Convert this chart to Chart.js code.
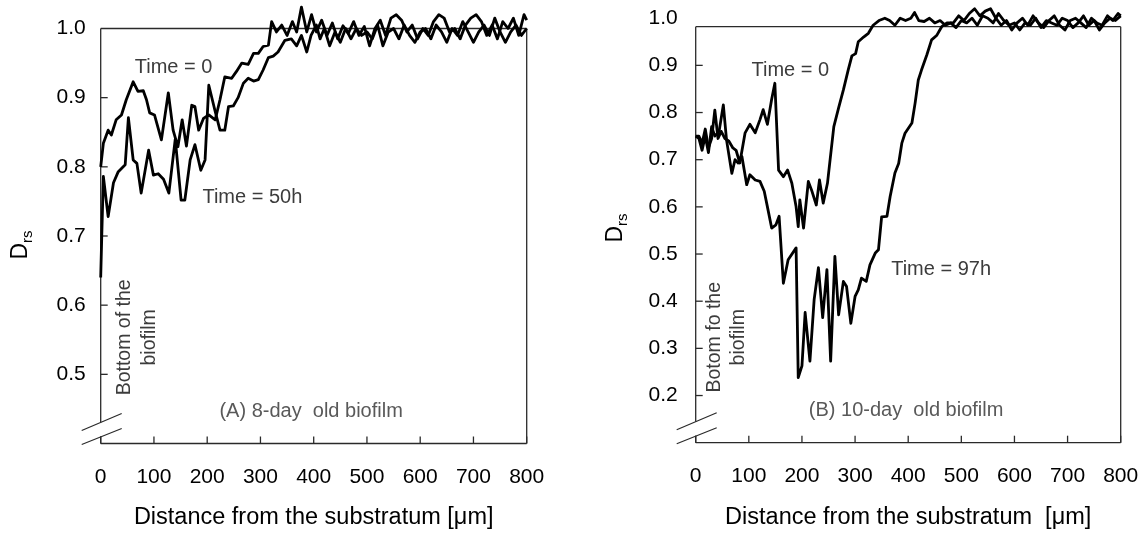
<!DOCTYPE html>
<html><head><meta charset="utf-8">
<script src="https://cdn.jsdelivr.net/npm/chart.js@4/dist/chart.umd.min.js"></script>
<style>
html,body{margin:0;padding:0;background:#fff;width:1143px;height:535px;overflow:hidden}
#cA{position:absolute;left:0;top:0}
#cB{position:absolute;left:570px;top:0}
</style></head><body>
<canvas id="cA" width="570" height="535"></canvas>
<canvas id="cB" width="573" height="535"></canvas>
<script>
// ---------- Panel A (8-day old biofilm) ----------
const a0Dist = [0,5,14,20,29,39,48,61,70,80,
  86,92,101,114,127,136,145,153,161,171,
  177,184,193,203,215,224,233,246,255,265,
  277,287,296,305,315,321,330,340,350,360,
  368,377,387,396,405,415,425,435,445,455,
  465,475,485,495,505,515,525,535,545,555,
  565,575,585,595,605,615,625,635,645,655,
  665,675,685,695,705,715,725,735,745,755,
  765,775,785,795,800];
const a0Vals = [0.80,0.834,0.853,0.846,0.868,0.875,0.897,0.923,0.909,0.91,
  0.897,0.878,0.875,0.839,0.907,0.853,0.829,0.868,0.83,0.889,
  0.887,0.853,0.87,0.875,0.868,0.897,0.93,0.928,0.938,0.95,
  0.948,0.964,0.964,0.974,0.976,1.01,0.995,1.005,0.99,1.01,
  0.995,1.031,0.995,1.02,0.995,1.012,0.99,1.008,0.985,1.004,
  0.993,1.01,0.99,1.003,0.975,1.0,1.012,0.99,1.015,1.02,
  1.012,0.995,1.005,0.985,1.0,0.99,1.01,1.02,1.015,0.995,
  1.0,0.985,1.005,1.015,1.02,1.01,0.99,1.005,0.985,1.01,
  1.0,1.015,0.99,1.02,1.012];
const a50Dist = [0,2,5,14,24,33,46,52,61,68,
  76,90,99,108,118,128,140,151,158,168,
  177,188,196,203,215,224,233,240,249,258,
  268,277,287,296,305,315,324,333,346,358,
  368,377,387,395,405,412,420,430,440,450,
  460,470,480,490,500,510,520,530,540,550,
  560,570,580,590,600,610,620,630,640,650,
  660,670,680,690,700,710,720,730,740,750,
  760,770,780,790,800];
const a50Vals = [0.64,0.70,0.786,0.728,0.777,0.793,0.803,0.871,0.81,0.805,
  0.762,0.824,0.788,0.79,0.782,0.762,0.84,0.752,0.752,0.81,
  0.832,0.795,0.81,0.918,0.88,0.853,0.853,0.887,0.888,0.90,
  0.921,0.928,0.924,0.926,0.94,0.958,0.96,0.966,0.983,0.985,
  0.975,0.99,0.966,0.99,1.005,0.985,1.0,0.975,0.995,0.98,
  1.0,0.985,1.0,0.99,0.995,0.985,1.005,0.975,0.995,1.0,
  0.985,1.005,0.99,0.98,0.995,1.0,0.985,1.005,0.995,0.98,
  1.0,0.99,1.01,0.995,0.98,0.995,1.005,0.99,1.015,0.995,
  0.98,0.995,1.005,0.99,1.0];

// ---------- Panel B (10-day old biofilm) ----------
const b0Dist = [0,6,12,18,24,30,36,42,48,55,
  62,70,76,83,93,102,112,121,127,135,
  143,149,156,165,173,181,189,193,196,203,
  212,218,227,233,240,248,253,260,269,278,
  287,294,301,306,316,325,334,345,356,365,
  375,385,395,405,412,420,430,440,450,460,
  470,480,490,500,510,520,530,540,550,560,
  570,580,590,600,610,620,630,640,650,660,
  670,680,690,700,710,720,730,740,750,760,
  770,780,790,800];
const b0Vals = [0.75,0.75,0.735,0.765,0.725,0.745,0.805,0.745,0.76,0.745,
  0.74,0.725,0.72,0.693,0.757,0.775,0.757,0.785,0.806,0.775,
  0.828,0.862,0.678,0.664,0.678,0.65,0.60,0.558,0.615,0.555,
  0.654,0.636,0.604,0.657,0.608,0.65,0.70,0.77,0.81,0.848,
  0.89,0.92,0.925,0.95,0.96,0.968,0.985,0.995,1.0,0.995,
  0.985,1.0,0.995,1.0,1.012,0.995,0.993,1.0,0.99,0.995,
  0.985,0.99,0.98,0.995,0.99,1.0,0.985,1.005,1.0,0.99,
  1.01,0.995,0.985,0.99,0.975,0.99,0.985,1.0,0.98,0.995,
  0.99,0.985,1.0,0.995,0.98,0.99,1.005,0.985,0.995,0.975,
  0.99,1.0,0.995,1.005];
const b97Dist = [0,6,12,18,24,30,36,44,52,58,
  68,74,80,87,96,102,112,121,129,135,
  143,151,157,165,174,189,193,200,206,215,
  223,231,239,247,254,262,269,278,284,292,
  300,306,312,321,328,338,344,350,360,366,
  375,382,388,394,407,413,419,425,435,444,
  454,463,473,485,495,505,515,525,535,545,
  555,565,575,585,595,605,615,625,635,645,
  655,665,675,685,695,705,715,725,735,745,
  755,765,775,785,795,800];
const b97Vals = [0.75,0.745,0.72,0.75,0.715,0.77,0.75,0.76,0.816,0.742,
  0.671,0.70,0.693,0.707,0.647,0.668,0.657,0.654,0.633,0.60,
  0.555,0.562,0.58,0.438,0.488,0.513,0.238,0.263,0.376,0.273,
  0.404,0.471,0.365,0.467,0.273,0.495,0.371,0.442,0.431,0.353,
  0.41,0.424,0.449,0.442,0.477,0.502,0.509,0.579,0.58,0.622,
  0.672,0.692,0.735,0.756,0.778,0.82,0.869,0.89,0.922,0.954,
  0.964,0.982,0.99,0.99,1.005,0.995,1.01,1.02,1.005,1.015,
  1.02,1.0,0.985,0.995,0.975,0.99,1.0,0.985,1.005,0.99,
  0.98,0.995,1.005,0.985,0.975,0.995,1.0,0.99,0.98,1.0,
  0.99,0.985,1.005,0.995,1.01,1.005];

const xTickStep = 100;
const yTickStep = 0.1;

const FONT = '"Liberation Sans", Arial, Helvetica, sans-serif';
Chart.defaults.font.family = FONT;

function seg(ctx, x1, y1, x2, y2) { ctx.beginPath(); ctx.moveTo(x1, y1); ctx.lineTo(x2, y2); ctx.stroke(); }

function makePanel(id, cfg) {
  const frame = {
    id: 'frame',
    beforeDatasetsDraw(chart) {
      const ctx = chart.ctx, xs = chart.scales.x, ys = chart.scales.y;
      const L = xs.getPixelForValue(0), R = xs.getPixelForValue(800);
      const B = ys.getPixelForValue(cfg.yMin), T = ys.getPixelForValue(cfg.boxTop);
      ctx.save();
      ctx.strokeStyle = '#2a2a2a'; ctx.lineWidth = 1.3; ctx.lineCap = 'butt';
      seg(ctx, L, T, R, T);
      seg(ctx, R, T, R, B);
      seg(ctx, L, B, R, B);
      seg(ctx, L, T, L, B - 21);
      seg(ctx, L, B - 7, L, B);
      ys.ticks.forEach(t => {
        const p = ys.getPixelForValue(t.value);
        if (p > T + 2 && p < B - 2) seg(ctx, L, p, L + 7, p);
      });
      xs.ticks.forEach(t => {
        const p = xs.getPixelForValue(t.value);
        seg(ctx, p, B, p, B - 7);
      });
      ctx.lineWidth = 1.2;
      seg(ctx, L - 19, B - 13, L + 21, B - 30);
      seg(ctx, L - 19, B + 1, L + 21, B - 15);
      ctx.restore();
    },
    afterDraw(chart) {
      const ctx = chart.ctx, xs = chart.scales.x, ys = chart.scales.y;
      ctx.save();
      ctx.textAlign = 'left'; ctx.textBaseline = 'alphabetic';
      cfg.notes.forEach(n => {
        ctx.fillStyle = n.color; ctx.font = n.size + 'px ' + FONT;
        ctx.fillText(n.text, xs.getPixelForValue(n.x), ys.getPixelForValue(n.y));
      });
      cfg.vnotes.forEach(n => {
        ctx.save();
        ctx.translate(xs.getPixelForValue(n.x), ys.getPixelForValue(n.y));
        ctx.rotate(-Math.PI / 2);
        ctx.fillStyle = n.color; ctx.font = n.size + 'px ' + FONT;
        ctx.textAlign = 'center'; ctx.textBaseline = 'middle';
        ctx.fillText(n.text, 0, 0);
        ctx.restore();
      });
      // y-axis title D_rs
      ctx.save();
      ctx.translate(cfg.yTitleX, cfg.yTitleY);
      ctx.rotate(-Math.PI / 2);
      ctx.fillStyle = '#000';
      ctx.font = '23px ' + FONT; const wD = ctx.measureText('D').width;
      ctx.font = '15px ' + FONT; const wS = ctx.measureText('rs').width;
      const st = -(wD + wS) / 2;
      ctx.font = '23px ' + FONT; ctx.fillText('D', st, 0);
      ctx.font = '15px ' + FONT; ctx.fillText('rs', st + wD, 5);
      ctx.restore();
      ctx.restore();
    }
  };
  const mk = (dist, vals) => ({
    data: dist.map((d, i) => ({ x: d, y: vals[i] })),
    borderColor: '#000', borderWidth: 2.8, pointRadius: 0, tension: 0,
    fill: false, clip: false, borderJoinStyle: 'round'
  });
  return new Chart(document.getElementById(id), {
    type: 'line',
    data: { datasets: cfg.series.map(s => mk(s[0], s[1])) },
    options: {
      responsive: false, animation: false, events: [],
      layout: { padding: { left: 0, right: cfg.padRight, top: cfg.padTop, bottom: 0 } },
      plugins: { legend: { display: false }, tooltip: { enabled: false } },
      scales: {
        x: {
          type: 'linear', min: 0, max: 800,
          grid: { display: false, drawTicks: false }, border: { display: false },
          ticks: { stepSize: xTickStep, padding: 21, color: '#000', font: { size: 21 }, maxRotation: 0, autoSkip: false },
          title: { display: true, text: cfg.xTitle, color: '#000', font: { size: 23.5 }, padding: { top: 0, bottom: 3 } },
          afterFit: s => { s.height = 535 - cfg.bottom; s.paddingLeft = 0; s.paddingRight = 0; }
        },
        y: {
          type: 'linear', min: cfg.yMin, max: 1.0,
          grid: { display: false, drawTicks: false }, border: { display: false },
          ticks: { stepSize: yTickStep, padding: cfg.yPad, color: '#000', font: { size: 21 },
            callback: v => Math.abs(v - cfg.yMin) < 1e-6 ? '' : Number(v).toFixed(1) },
          afterFit: s => { s.width = cfg.left; s.paddingTop = 0; s.paddingBottom = 0; }
        }
      }
    },
    plugins: [frame]
  });
}

makePanel('cA', {
  series: [[a0Dist, a0Vals], [a50Dist, a50Vals]],
  yMin: 0.4, boxTop: 1.0, left: 100.7, padRight: 43.3, padTop: 28.5, bottom: 443.5, yPad: 15,
  xTitle: 'Distance from the substratum [μm]',
  yTitleX: 27, yTitleY: 245,
  notes: [
    { text: 'Time = 0', x: 64, y: 0.936, size: 20, color: '#3c3c3c' },
    { text: 'Time = 50h', x: 191, y: 0.748, size: 20, color: '#3c3c3c' },
    { text: '(A) 8-day  old biofilm', x: 223, y: 0.439, size: 20, color: '#595959' }
  ],
  vnotes: [
    { text: 'Bottom of the', x: 44, y: 0.5535, size: 19.5, color: '#3c3c3c' },
    { text: 'biofilm', x: 91, y: 0.5535, size: 19.5, color: '#3c3c3c' }
  ]
});

makePanel('cB', {
  series: [[b0Dist, b0Vals], [b97Dist, b97Vals]],
  yMin: 0.1, boxTop: 0.982, left: 125.7, padRight: 22.3, padTop: 18.2, bottom: 442.7, yPad: 18,
  xTitle: 'Distance from the substratum  [μm]',
  yTitleX: 52, yTitleY: 228,
  notes: [
    { text: 'Time = 0', x: 105, y: 0.8775, size: 20, color: '#3c3c3c' },
    { text: 'Time = 97h', x: 368, y: 0.456, size: 20, color: '#3c3c3c' },
    { text: '(B) 10-day  old biofilm', x: 213, y: 0.156, size: 20, color: '#595959' }
  ],
  vnotes: [
    { text: 'Botom fo the', x: 36, y: 0.3235, size: 19.5, color: '#3c3c3c' },
    { text: 'biofilm', x: 81.5, y: 0.3235, size: 19.5, color: '#3c3c3c' }
  ]
});
</script>
</body></html>
